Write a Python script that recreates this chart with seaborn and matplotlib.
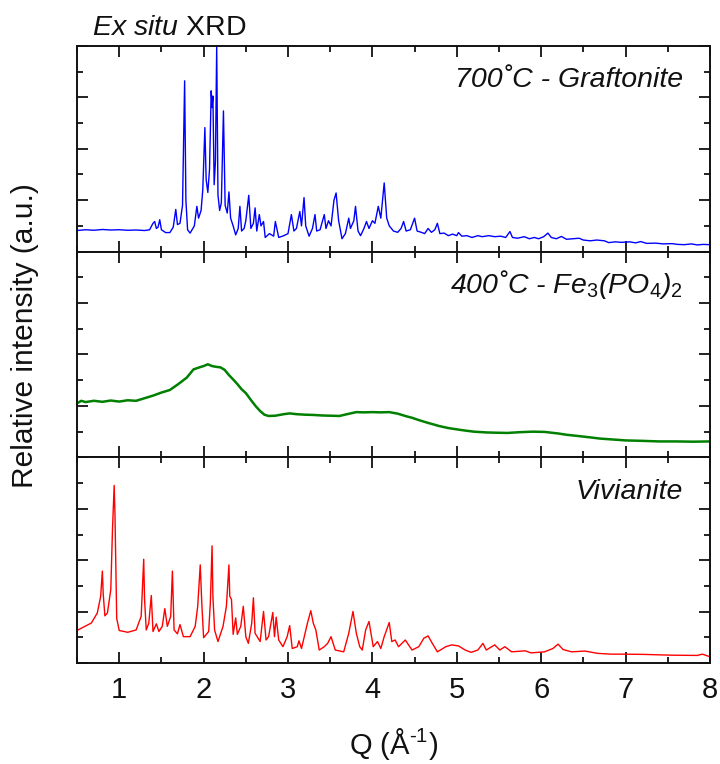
import matplotlib
matplotlib.use("Agg")
import matplotlib.pyplot as plt
from matplotlib.ticker import MultipleLocator, FixedLocator
import pandas as pd
import seaborn as sns

# --- Diffraction patterns: Q (1/Å) vs. relative intensity (offset, arbitrary units) ---
graftonite_q = [0.50, 0.60, 0.70, 0.80, 0.90, 1.00, 1.10, 1.20, 1.30, 1.36, 1.40, 1.42, 1.44, 1.46,
                1.48, 1.50, 1.55, 1.60, 1.64, 1.67, 1.69, 1.72, 1.75, 1.775, 1.79, 1.81, 1.84, 1.89,
                1.92, 1.94, 1.97, 1.99, 2.015, 2.03, 2.05, 2.07, 2.09, 2.10, 2.11, 2.125, 2.14, 2.155,
                2.17, 2.19, 2.21, 2.235, 2.255, 2.28, 2.30, 2.32, 2.35, 2.38, 2.41, 2.43, 2.45, 2.48,
                2.50, 2.535, 2.56, 2.59, 2.61, 2.63, 2.66, 2.68, 2.71, 2.73, 2.78, 2.83, 2.85, 2.89,
                2.95, 3.00, 3.04, 3.07, 3.10, 3.14, 3.16, 3.19, 3.21, 3.25, 3.29, 3.32, 3.34, 3.38,
                3.43, 3.45, 3.48, 3.51, 3.545, 3.57, 3.60, 3.64, 3.68, 3.72, 3.74, 3.78, 3.80, 3.83,
                3.86, 3.90, 3.93, 3.96, 4.00, 4.03, 4.07, 4.10, 4.14, 4.17, 4.20, 4.25, 4.30, 4.34,
                4.37, 4.40, 4.45, 4.50, 4.53, 4.58, 4.62, 4.66, 4.70, 4.74, 4.77, 4.80, 4.85, 4.90,
                4.95, 5.00, 5.02, 5.06, 5.12, 5.18, 5.25, 5.30, 5.38, 5.45, 5.52, 5.58, 5.63, 5.66,
                5.72, 5.80, 5.86, 5.92, 5.97, 6.03, 6.08, 6.12, 6.18, 6.24, 6.30, 6.38, 6.45, 6.50,
                6.58, 6.66, 6.75, 6.80, 6.88, 6.95, 7.05, 7.12, 7.18, 7.25, 7.35, 7.45, 7.55, 7.62,
                7.70, 7.78, 7.85, 7.92, 8.00]
graftonite_i = [0.82, 0.85, 0.83, 0.86, 0.84, 0.85, 0.83, 0.84, 0.82, 0.85, 1.10, 1.17, 0.90, 0.95,
                1.24, 0.85, 0.74, 0.74, 0.95, 1.64, 1.05, 1.10, 1.80, 6.64, 2.00, 0.85, 0.72, 1.00,
                1.76, 1.30, 1.60, 2.40, 4.82, 2.80, 2.30, 3.20, 6.25, 5.60, 6.05, 2.60, 3.50, 7.98,
                2.20, 1.60, 1.90, 5.47, 1.80, 1.50, 2.32, 1.30, 1.00, 0.65, 0.90, 1.76, 0.80, 0.90,
                1.20, 2.19, 0.90, 1.10, 1.70, 0.80, 1.44, 1.00, 1.17, 0.55, 0.70, 0.60, 1.17, 0.55,
                0.62, 0.70, 1.44, 0.80, 0.90, 1.56, 1.00, 2.10, 1.00, 0.60, 0.90, 1.44, 0.80, 0.85,
                1.44, 0.90, 1.20, 1.00, 2.00, 2.28, 1.20, 0.50, 0.70, 1.30, 0.90, 1.20, 1.76, 0.80,
                0.62, 0.90, 1.17, 0.90, 1.20, 1.10, 1.76, 1.30, 2.67, 1.30, 1.00, 0.80, 0.75, 0.90,
                1.17, 0.80, 0.85, 1.30, 0.80, 0.75, 0.70, 0.90, 0.75, 0.85, 1.10, 0.70, 0.72, 0.62,
                0.68, 0.62, 0.74, 0.60, 0.62, 0.55, 0.62, 0.58, 0.62, 0.58, 0.60, 0.55, 0.78, 0.55,
                0.52, 0.58, 0.50, 0.55, 0.50, 0.58, 0.72, 0.55, 0.50, 0.59, 0.48, 0.50, 0.52, 0.45,
                0.42, 0.45, 0.42, 0.35, 0.38, 0.36, 0.38, 0.34, 0.39, 0.32, 0.33, 0.30, 0.31, 0.28,
                0.27, 0.30, 0.26, 0.28, 0.27]

fe3po4_q = [0.50, 0.55, 0.60, 0.70, 0.80, 0.90, 1.00, 1.10, 1.20, 1.30, 1.40, 1.50, 1.60, 1.70,
            1.80, 1.88, 1.95, 2.00, 2.05, 2.10, 2.15, 2.20, 2.25, 2.30, 2.35, 2.40, 2.45, 2.50,
            2.57, 2.62, 2.67, 2.72, 2.77, 2.85, 2.95, 3.02, 3.10, 3.20, 3.30, 3.40, 3.50, 3.61,
            3.70, 3.81, 3.90, 4.00, 4.10, 4.20, 4.30, 4.40, 4.47, 4.55, 4.65, 4.79, 4.90, 5.06,
            5.20, 5.35, 5.45, 5.60, 5.75, 5.90, 6.04, 6.20, 6.30, 6.44, 6.60, 6.70, 6.83, 7.00,
            7.22, 7.40, 7.60, 7.80, 8.00]
fe3po4_i = [2.10, 2.20, 2.15, 2.20, 2.16, 2.21, 2.17, 2.22, 2.20, 2.30, 2.40, 2.52, 2.62, 2.85,
            3.10, 3.42, 3.50, 3.55, 3.62, 3.55, 3.52, 3.50, 3.40, 3.20, 3.03, 2.85, 2.65, 2.50,
            2.19, 1.98, 1.80, 1.66, 1.61, 1.62, 1.68, 1.71, 1.68, 1.66, 1.65, 1.63, 1.62, 1.61,
            1.68, 1.76, 1.75, 1.76, 1.75, 1.76, 1.70, 1.60, 1.54, 1.45, 1.35, 1.22, 1.14, 1.06,
            1.00, 0.97, 0.96, 0.95, 0.98, 1.00, 0.99, 0.93, 0.88, 0.83, 0.77, 0.73, 0.70, 0.66,
            0.64, 0.62, 0.62, 0.61, 0.62]

vivianite_q = [0.51, 0.67, 0.74, 0.78, 0.80, 0.81, 0.83, 0.86, 0.90, 0.92, 0.94, 0.95, 0.97, 1.00,
               1.10, 1.20, 1.26, 1.29, 1.30, 1.32, 1.35, 1.38, 1.40, 1.44, 1.47, 1.51, 1.54, 1.57,
               1.61, 1.63, 1.65, 1.69, 1.72, 1.76, 1.84, 1.90, 1.93, 1.96, 1.98, 2.00, 2.06, 2.08,
               2.10, 2.11, 2.13, 2.17, 2.23, 2.27, 2.30, 2.31, 2.33, 2.35, 2.38, 2.40, 2.44, 2.47,
               2.50, 2.53, 2.57, 2.59, 2.61, 2.67, 2.71, 2.74, 2.77, 2.82, 2.84, 2.86, 2.89, 2.94,
               2.99, 3.02, 3.05, 3.11, 3.13, 3.16, 3.20, 3.23, 3.27, 3.30, 3.33, 3.37, 3.43, 3.47,
               3.51, 3.56, 3.66, 3.72, 3.77, 3.81, 3.85, 3.88, 3.92, 3.96, 3.98, 4.01, 4.06, 4.10,
               4.14, 4.20, 4.23, 4.27, 4.31, 4.39, 4.47, 4.55, 4.61, 4.66, 4.71, 4.77, 4.87, 4.94,
               5.02, 5.10, 5.17, 5.25, 5.31, 5.35, 5.45, 5.51, 5.57, 5.65, 5.81, 5.88, 6.04, 6.14,
               6.20, 6.26, 6.36, 6.52, 6.67, 6.83, 6.99, 7.22, 7.54, 7.85, 7.91, 8.00]
vivianite_i = [1.29, 1.56, 1.95, 2.60, 3.58, 2.70, 1.84, 1.95, 2.86, 5.20, 6.91, 5.70, 1.74, 1.27,
               1.20, 1.29, 1.82, 4.04, 2.50, 1.29, 1.55, 2.63, 1.23, 1.53, 1.23, 1.43, 2.12, 1.43,
               1.82, 3.58, 1.29, 1.14, 1.50, 1.03, 1.03, 1.43, 2.21, 3.82, 2.21, 0.99, 1.23, 2.37,
               4.56, 2.60, 1.29, 0.84, 1.43, 2.21, 3.82, 2.60, 2.48, 1.12, 1.76, 1.12, 1.43, 2.21,
               1.03, 0.77, 1.55, 2.54, 1.16, 0.84, 2.01, 0.90, 1.03, 1.97, 1.03, 1.79, 0.90, 0.64,
               1.03, 1.46, 0.57, 0.64, 0.87, 0.57, 1.12, 1.55, 2.04, 1.55, 1.29, 0.51, 0.64, 0.77,
               1.03, 0.51, 0.44, 1.16, 2.01, 1.16, 0.64, 0.51, 1.29, 1.62, 1.23, 0.64, 0.84, 0.57,
               1.03, 1.58, 0.84, 0.90, 0.64, 0.90, 0.51, 0.64, 0.97, 1.06, 0.77, 0.44, 0.64, 0.71,
               0.67, 0.51, 0.42, 0.51, 0.77, 0.51, 0.71, 0.51, 0.64, 0.44, 0.48, 0.40, 0.44, 0.57,
               0.74, 0.53, 0.44, 0.47, 0.38, 0.35, 0.35, 0.34, 0.31, 0.30, 0.35, 0.25]

panel_labels = ["700˚C - Graftonite", "400˚C - Fe$_3$(PO$_4$)$_2$", "Vivianite"]
panel_colors = ["#0000ff", "#008000", "#ff0000"]
x_ticks = [1, 2, 3, 4, 5, 6, 7, 8]

sns.set_theme(style="ticks")
plt.rcParams["font.family"] = ["Liberation Sans", "DejaVu Sans"]
plt.rcParams["mathtext.fontset"] = "custom"
plt.rcParams["mathtext.rm"] = "Liberation Sans"
plt.rcParams["mathtext.it"] = "Liberation Sans:italic"
plt.rcParams["mathtext.bf"] = "Liberation Sans:bold"
plt.rcParams["axes.linewidth"] = 1.4

frames = [
    pd.DataFrame({"Q": graftonite_q, "I": graftonite_i}),
    pd.DataFrame({"Q": fe3po4_q, "I": fe3po4_i}),
    pd.DataFrame({"Q": vivianite_q, "I": vivianite_i}),
]
widths = [1.0, 1.8, 1.0]

fig, axes = plt.subplots(3, 1, sharex=True, figsize=(7.2, 7.64), dpi=100)
fig.subplots_adjust(left=0.107, right=0.986, top=0.94, bottom=0.132, hspace=0)

for ax, df, color, lw, label in zip(axes, frames, panel_colors, widths, panel_labels):
    sns.lineplot(data=df, x="Q", y="I", ax=ax, color=color, linewidth=lw,
                 sort=False, estimator=None)
    ax.set_xlim(0.5, 8)
    ax.set_ylim(0, 8)
    ax.set_xlabel("")
    ax.set_ylabel("")
    ax.xaxis.set_major_locator(FixedLocator(x_ticks))
    ax.xaxis.set_minor_locator(MultipleLocator(0.5))
    ax.yaxis.set_major_locator(FixedLocator([0, 2, 4, 6, 8]))
    ax.yaxis.set_minor_locator(FixedLocator([1, 3, 5, 7]))
    ax.tick_params(which="both", direction="in", top=True, right=True,
                   labelleft=False, width=1.3, color="#111111")
    ax.tick_params(which="major", length=7.7)
    ax.tick_params(which="minor", length=4)
    for sp in ax.spines.values():
        sp.set_color("#111111")
    ax.text(0.958, 0.80, label, transform=ax.transAxes, ha="right", va="baseline",
            fontsize=20.5, fontstyle="italic", color="#111111")

axes[-1].tick_params(axis="x", labelsize=21, pad=9, labelcolor="#111111")
axes[-1].set_xlabel("Q (Å$^{\\text{-1}}$)", fontsize=21, labelpad=16, color="#111111")
fig.text(0.035, (0.94 + 0.132) / 2 + 0.025, "Relative intensity (a.u.)", rotation=90,
         ha="center", va="center", fontsize=21.5, color="#111111")
fig.text(0.128, 0.954, "$\\mathit{Ex\\ situ}$ XRD", fontsize=20.5, color="#111111",
         ha="left", va="baseline")

fig.savefig("out.png", dpi=100)
